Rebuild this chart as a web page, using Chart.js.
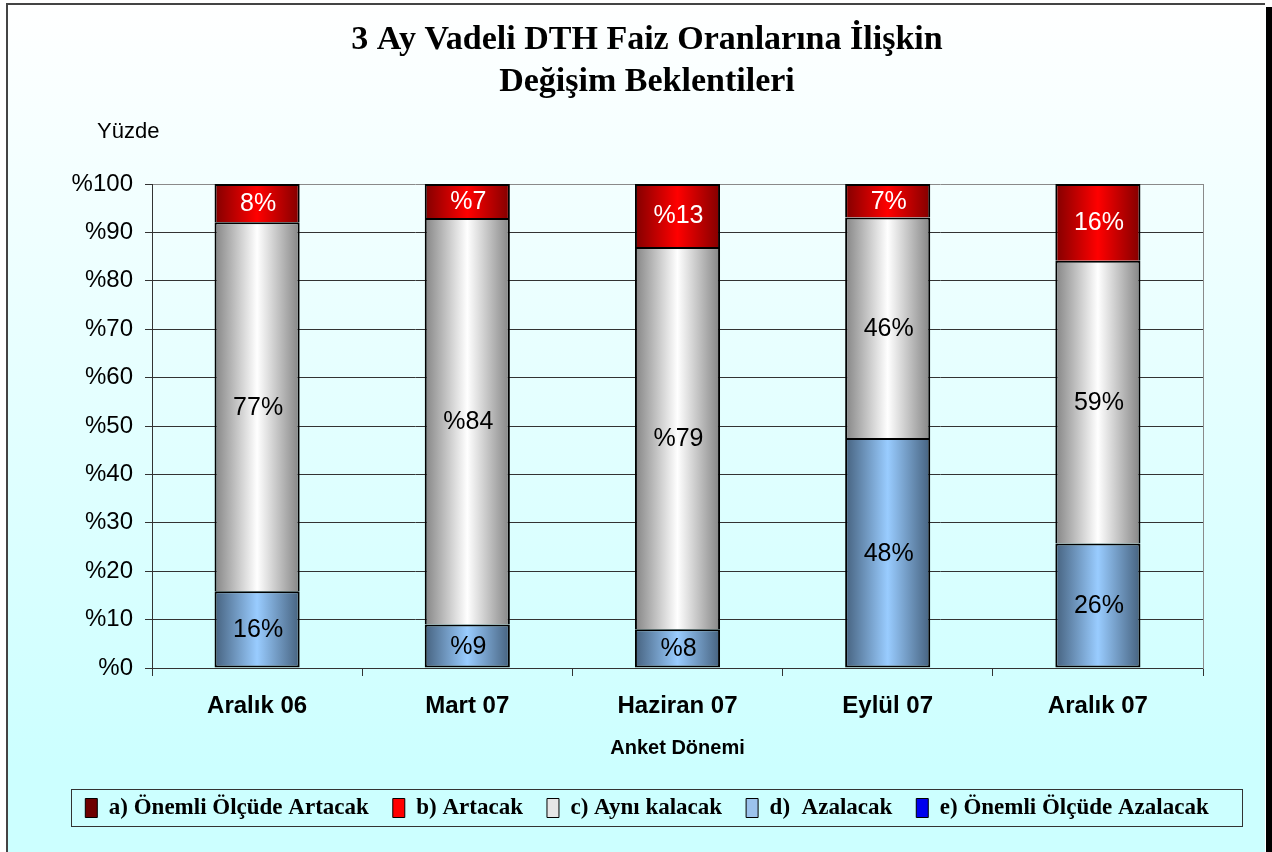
<!DOCTYPE html>
<html>
<head>
<meta charset="utf-8">
<script src="https://cdn.jsdelivr.net/npm/chart.js@4.4.1/dist/chart.umd.min.js"></script>
<style>
html,body{margin:0;padding:0;background:#ffffff;}
canvas{display:block;}
</style>
</head>
<body>
<canvas id="c" width="1272" height="852"></canvas>
<script>
// ---- data ----
const categories = ['Aralık 06', 'Mart 07', 'Haziran 07', 'Eylül 07', 'Aralık 07'];
const seriesNames = ['a) Önemli Ölçüde Artacak', 'b) Artacak', 'c) Aynı kalacak', 'd)  Azalacak', 'e) Önemli Ölçüde Azalacak'];
const onemliArtacak = [0, 0, 0, 0, 0];
const artacak = [8, 7, 13, 7, 16];
const ayniKalacak = [77, 84, 79, 46, 59];
const azalacak = [16, 9, 8, 48, 26];
const onemliAzalacak = [0, 0, 0, 0, 0];
const artacakLabels = ['8%', '%7', '%13', '7%', '16%'];
const ayniLabels = ['77%', '%84', '%79', '46%', '59%'];
const azalacakLabels = ['16%', '%9', '%8', '48%', '26%'];
const yTickValues = [0, 10, 20, 30, 40, 50, 60, 70, 80, 90, 100];
const titleLines = ['3 Ay Vadeli DTH Faiz Oranlarına İlişkin', 'Değişim Beklentileri'];
const yAxisTitle = 'Yüzde';
const xAxisTitle = 'Anket Dönemi';

// 100% stacked: each category normalised to its total
const totals = categories.map((_, i) =>
  onemliArtacak[i] + artacak[i] + ayniKalacak[i] + azalacak[i] + onemliAzalacak[i]);
const pct = arr => arr.map((v, i) => v / totals[i] * 100);

const SANS = '"Liberation Sans", Arial, sans-serif';
const SERIF = '"Liberation Serif", "Times New Roman", serif';

function barGradient(edge, mid, solid) {
  return (ctx) => {
    const chart = ctx.chart;
    if (!chart.chartArea || ctx.dataIndex === undefined) return solid;
    const xs = chart.scales.x;
    const cx = xs.getPixelForValue(ctx.dataIndex);
    const w = xs.width / categories.length * 0.5 * 0.81;
    const g = chart.ctx.createLinearGradient(cx - w / 2, 0, cx + w / 2, 0);
    g.addColorStop(0, edge);
    g.addColorStop(0.5, mid);
    g.addColorStop(1, edge);
    return g;
  };
}

const legendColors = ['#6e0000', '#ff0000', '#e6e6e6', '#9cc3ec', '#0000ee'];

// datasets bottom -> top (e, d, c, b, a); legend shown reversed (a..e)
const datasets = [
  { label: seriesNames[4], data: pct(onemliAzalacak), backgroundColor: barGradient('#00008b', '#0000ff', '#0000ff'), legendIdx: 4, borderSkipped: 'start' },
  { label: seriesNames[3], data: pct(azalacak), backgroundColor: barGradient('#46627f', '#99ccff', '#99ccff'), valueLabels: azalacakLabels, labelColor: '#000000', legendIdx: 3, borderSkipped: false },
  { label: seriesNames[2], data: pct(ayniKalacak), backgroundColor: barGradient('#858585', '#ffffff', '#dddddd'), valueLabels: ayniLabels, labelColor: '#000000', legendIdx: 2, borderSkipped: 'start' },
  { label: seriesNames[1], data: pct(artacak), backgroundColor: barGradient('#820000', '#ff0000', '#ff0000'), valueLabels: artacakLabels, labelColor: '#ffffff', legendIdx: 1, borderSkipped: 'start' },
  { label: seriesNames[0], data: pct(onemliArtacak), backgroundColor: barGradient('#400000', '#800000', '#800000'), legendIdx: 0, borderSkipped: 'start' }
].map(d => Object.assign(d, {
  borderColor: '#000000',
  borderWidth: 2,
  categoryPercentage: 0.5,
  barPercentage: 0.81,
  yAxisID: 'y'
}));

const backgroundPlugin = {
  id: 'bg',
  beforeDraw(chart) {
    const { ctx, width, height } = chart;
    ctx.save();
    ctx.fillStyle = '#ffffff';
    ctx.fillRect(0, 0, width, height);
    const g = ctx.createLinearGradient(0, 0, 0, height);
    g.addColorStop(0, '#ffffff');
    g.addColorStop(0.9, '#ccffff');
    g.addColorStop(1, '#ccffff');
    ctx.fillStyle = g;
    ctx.fillRect(7, 4, 1258, height - 4);
    // frame
    ctx.strokeStyle = '#444444';
    ctx.lineWidth = 2;
    ctx.beginPath();
    ctx.moveTo(7, height);
    ctx.lineTo(7, 4);
    ctx.lineTo(1265, 4);
    ctx.stroke();
    // shadow on right
    ctx.fillStyle = '#000000';
    ctx.fillRect(1266, 7, 6, height - 7);
    ctx.restore();
  },
  afterDatasetsDraw(chart) {
    const { ctx } = chart;
    ctx.save();
    ctx.font = '25px ' + SANS;
    ctx.textAlign = 'center';
    ctx.textBaseline = 'middle';
    chart.data.datasets.forEach((ds, di) => {
      if (!ds.valueLabels) return;
      const meta = chart.getDatasetMeta(di);
      meta.data.forEach((bar, i) => {
        const p = bar.getProps(['x', 'y', 'base'], true);
        ctx.fillStyle = ds.labelColor;
        ctx.fillText(ds.valueLabels[i], p.x + 1, (p.y + p.base) / 2 + 1);
      });
    });
    // "Yüzde" label above the value axis
    ctx.fillStyle = '#000000';
    ctx.font = '22px ' + SANS;
    ctx.textAlign = 'left';
    ctx.fillText(yAxisTitle, 97, 132);
    ctx.restore();
  }
};

const legendFramePlugin = {
  id: 'legendFrame',
  afterDraw(chart) {
    const lg = chart.legend;
    if (!lg || !lg.legendHitBoxes || !lg.legendHitBoxes.length) return;
    const hb = lg.legendHitBoxes;
    const left = hb[0].left - 14;
    const last = hb[hb.length - 1];
    const right = last.left + last.width + 34;
    const cy = hb[0].top + hb[0].height / 2;
    const { ctx } = chart;
    ctx.save();
    ctx.strokeStyle = '#333333';
    ctx.lineWidth = 1;
    ctx.strokeRect(Math.round(left) + 0.5, Math.round(cy - 19) + 0.5, Math.round(right - left), 37);
    ctx.restore();
  }
};

new Chart(document.getElementById('c'), {
  type: 'bar',
  data: { labels: categories, datasets },
  plugins: [backgroundPlugin, legendFramePlugin],
  options: {
    responsive: false,
    animation: false,
    devicePixelRatio: 1,
    layout: { padding: { left: 60, right: 38, top: 0, bottom: 22.5 } },
    plugins: {
      title: {
        display: true,
        text: titleLines,
        color: '#000000',
        font: { family: SERIF, size: 34, weight: 'bold', lineHeight: 42 / 34 },
        padding: { top: 19, bottom: 81 }
      },
      legend: {
        display: true,
        position: 'bottom',
        reverse: true,
        labels: {
          color: '#000000',
          font: { family: SERIF, size: 23, weight: 'bold' },
          boxWidth: 12,
          boxHeight: 19,
          padding: 24,
          generateLabels(chart) {
            return chart.data.datasets.map((ds, i) => ({
              text: ds.label,
              fillStyle: legendColors[ds.legendIdx],
              strokeStyle: '#000000',
              lineWidth: 1,
              hidden: false,
              datasetIndex: i,
              fontColor: '#000000'
            }));
          }
        }
      },
      tooltip: { enabled: false }
    },
    scales: {
      x: {
        stacked: true,
        afterFit(scale) { scale.height = 772.5 - 668; },
        grid: {
          display: true,
          drawOnChartArea: false,
          drawTicks: true,
          tickLength: 8,
          color: '#333333',
          offset: true
        },
        border: { display: true, color: '#333333', width: 1 },
        ticks: {
          color: '#000000',
          font: { family: SANS, size: 24, weight: 'bold' },
          padding: 16,
          maxRotation: 0
        },
        title: {
          display: true,
          text: xAxisTitle,
          color: '#000000',
          font: { family: SANS, size: 20, weight: 'bold' },
          padding: { top: 0, bottom: 12 }
        }
      },
      y: {
        stacked: true,
        min: 0,
        max: 100,
        afterFit(scale) { scale.width = 152 - 60; },
        afterBuildTicks(scale) { scale.ticks = yTickValues.map(v => ({ value: v })); },
        grid: {
          color: (c) => (c.tick && c.tick.value === 100 ? '#8a8a8a' : '#333333'),
          tickColor: '#333333',
          tickLength: 7,
          lineWidth: 1
        },
        border: { display: true, color: '#333333', width: 1 },
        ticks: {
          color: '#000000',
          font: { family: SANS, size: 24 },
          padding: 12,
          callback: (v) => '%' + v
        }
      },
      yRight: {
        position: 'right',
        min: 0,
        max: 100,
        afterFit(scale) { scale.width = 1272 - 38 - 1203; },
        grid: { display: false, drawTicks: false },
        ticks: { display: false },
        border: { display: true, color: '#8a8a8a', width: 1 }
      }
    }
  }
});
</script>
</body>
</html>
